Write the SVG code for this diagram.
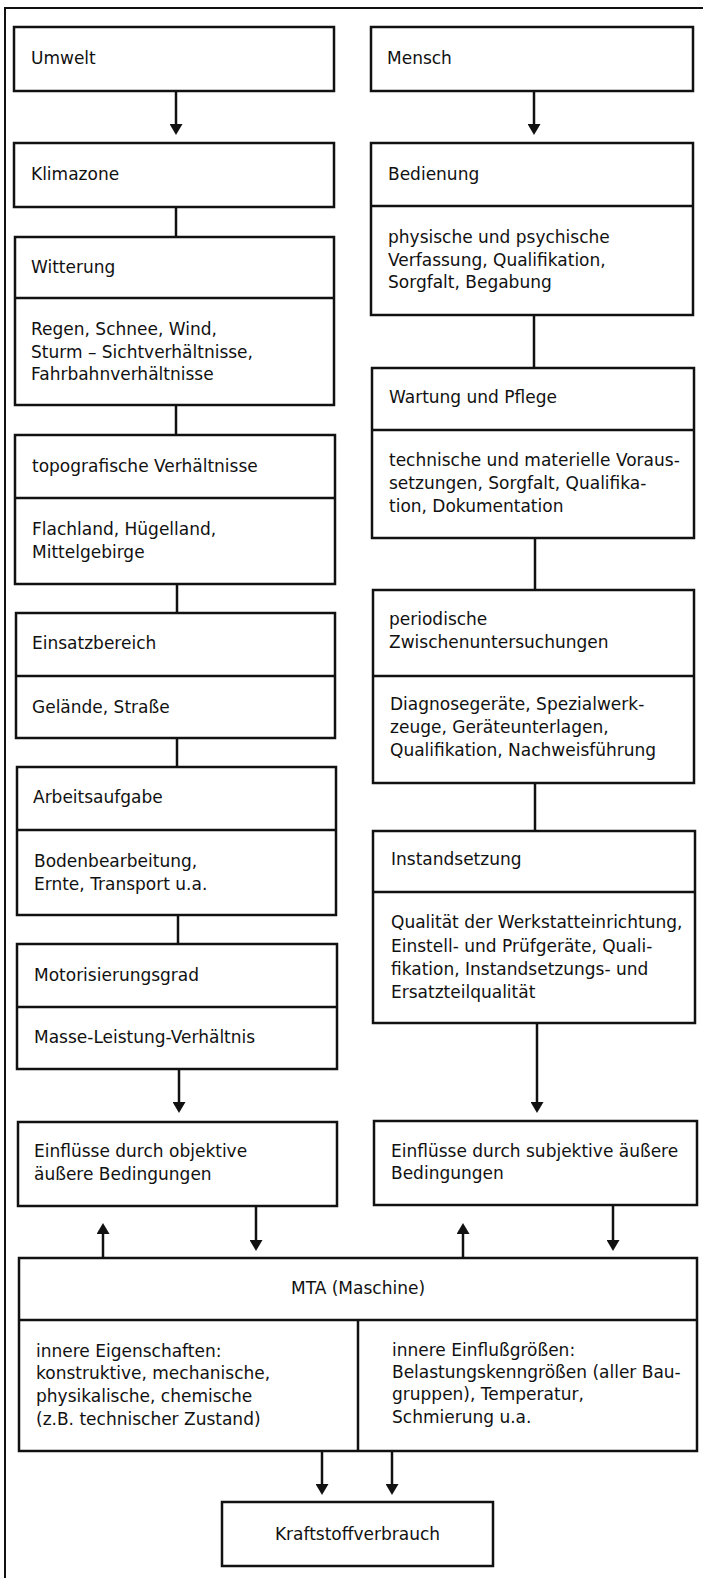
<svg xmlns="http://www.w3.org/2000/svg" width="703" height="1578" viewBox="0 0 703 1578">
<style>
.box{fill:#fff;stroke:#111;stroke-width:2.5}
.div{stroke:#111;stroke-width:2.5;fill:none}
.frame{stroke:#111;stroke-width:2;fill:none}
.con{stroke:#111;stroke-width:2.5;fill:none}
.arr{marker-end:url(#ah)}
text{font-family:"DejaVu Sans","Liberation Sans",sans-serif;font-size:17px;fill:#111}
.c{text-anchor:middle}
</style>
<defs>
<marker id="ah" viewBox="0 0 11 13" refX="3" refY="6.5" markerWidth="11" markerHeight="13" markerUnits="userSpaceOnUse" orient="auto">
<path d="M0,0 L11,6.5 L0,13 z" fill="#111"/>
</marker>
</defs>
<rect width="703" height="1578" fill="#fff"/>
<g id="frame">
<path class="frame" d="M5,1578 L5,8 L703,8"/>
</g>
<g id="connectors">
<path class="con arr" d="M176,91 V127"/>
<path class="con" d="M176,207 V237"/>
<path class="con" d="M176,405 V435"/>
<path class="con" d="M177,584 V613"/>
<path class="con" d="M177,738 V767"/>
<path class="con" d="M178,915 V944"/>
<path class="con arr" d="M179,1069 V1105"/>
<path class="con arr" d="M103,1258 V1231"/>
<path class="con arr" d="M256,1206 V1243"/>
<path class="con arr" d="M534,91 V127"/>
<path class="con" d="M534,315 V368"/>
<path class="con" d="M535,538 V590"/>
<path class="con" d="M535,783 V831"/>
<path class="con arr" d="M537,1023 V1105"/>
<path class="con arr" d="M463,1258 V1231"/>
<path class="con arr" d="M613,1205 V1243"/>
<path class="con arr" d="M322,1451 V1487"/>
<path class="con arr" d="M392,1451 V1487"/>
</g>
<g id="umwelt">
<rect class="box" x="14" y="27" width="320" height="64"/>
<text x="31" y="64">Umwelt</text>
</g>
<g id="klimazone">
<rect class="box" x="14" y="143" width="320" height="64"/>
<text x="31" y="180">Klimazone</text>
</g>
<g id="witterung">
<rect class="box" x="15" y="237" width="319" height="168"/>
<path class="div" d="M15,298 H334"/>
<text x="31" y="273">Witterung</text>
<text x="31" y="335">Regen, Schnee, Wind,</text>
<text x="31" y="358">Sturm – Sichtverhältnisse,</text>
<text x="31" y="380">Fahrbahnverhältnisse</text>
</g>
<g id="topografie">
<rect class="box" x="15" y="435" width="320" height="149"/>
<path class="div" d="M15,498 H335"/>
<text x="32" y="472">topografische Verhältnisse</text>
<text x="32" y="535">Flachland, Hügelland,</text>
<text x="32" y="558">Mittelgebirge</text>
</g>
<g id="einsatzbereich">
<rect class="box" x="16" y="613" width="319" height="125"/>
<path class="div" d="M16,676 H335"/>
<text x="32" y="649">Einsatzbereich</text>
<text x="32" y="713">Gelände, Straße</text>
</g>
<g id="arbeitsaufgabe">
<rect class="box" x="17" y="767" width="319" height="148"/>
<path class="div" d="M17,830 H336"/>
<text x="33" y="803">Arbeitsaufgabe</text>
<text x="34" y="867">Bodenbearbeitung,</text>
<text x="34" y="890">Ernte, Transport u.a.</text>
</g>
<g id="motorisierungsgrad">
<rect class="box" x="17" y="944" width="320" height="125"/>
<path class="div" d="M17,1007 H337"/>
<text x="34" y="981">Motorisierungsgrad</text>
<text x="34" y="1043">Masse-Leistung-Verhältnis</text>
</g>
<g id="einfluesse-objektiv">
<rect class="box" x="18" y="1122" width="319" height="84"/>
<text x="34" y="1157">Einflüsse durch objektive</text>
<text x="34" y="1180">äußere Bedingungen</text>
</g>
<g id="mensch">
<rect class="box" x="371" y="27" width="322" height="64"/>
<text x="387" y="64">Mensch</text>
</g>
<g id="bedienung">
<rect class="box" x="371" y="143" width="322" height="172"/>
<path class="div" d="M371,206 H693"/>
<text x="388" y="180">Bedienung</text>
<text x="388" y="243">physische und psychische</text>
<text x="388" y="266">Verfassung, Qualifikation,</text>
<text x="388" y="288">Sorgfalt, Begabung</text>
</g>
<g id="wartung">
<rect class="box" x="372" y="368" width="322" height="170"/>
<path class="div" d="M372,430 H694"/>
<text x="389" y="403">Wartung und Pflege</text>
<text x="389" y="466">technische und materielle Voraus-</text>
<text x="389" y="489">setzungen, Sorgfalt, Qualifika-</text>
<text x="389" y="512">tion, Dokumentation</text>
</g>
<g id="zwischenuntersuchungen">
<rect class="box" x="373" y="590" width="321" height="193"/>
<path class="div" d="M373,676 H694"/>
<text x="389" y="625">periodische</text>
<text x="389" y="648">Zwischenuntersuchungen</text>
<text x="390" y="710">Diagnosegeräte, Spezialwerk-</text>
<text x="390" y="733">zeuge, Geräteunterlagen,</text>
<text x="390" y="756">Qualifikation, Nachweisführung</text>
</g>
<g id="instandsetzung">
<rect class="box" x="373" y="831" width="322" height="192"/>
<path class="div" d="M373,892 H695"/>
<text x="391" y="865">Instandsetzung</text>
<text x="391" y="928">Qualität der Werkstatteinrichtung,</text>
<text x="391" y="952">Einstell- und Prüfgeräte, Quali-</text>
<text x="391" y="975">fikation, Instandsetzungs- und</text>
<text x="391" y="998">Ersatzteilqualität</text>
</g>
<g id="einfluesse-subjektiv">
<rect class="box" x="374" y="1121" width="323" height="84"/>
<text x="391" y="1157">Einflüsse durch subjektive äußere</text>
<text x="391" y="1179">Bedingungen</text>
</g>
<g id="mta">
<rect class="box" x="19" y="1258" width="678" height="193"/>
<path class="div" d="M19,1320 H697 M358,1320 V1451"/>
<text class="c" x="358" y="1294">MTA (Maschine)</text>
<text x="36" y="1357">innere Eigenschaften:</text>
<text x="36" y="1379">konstruktive, mechanische,</text>
<text x="36" y="1402">physikalische, chemische</text>
<text x="36" y="1425">(z.B. technischer Zustand)</text>
<text x="392" y="1356">innere Einflußgrößen:</text>
<text x="392" y="1378">Belastungskenngrößen (aller Bau-</text>
<text x="392" y="1400">gruppen), Temperatur,</text>
<text x="392" y="1423">Schmierung u.a.</text>
</g>
<g id="kraftstoffverbrauch">
<rect class="box" x="222" y="1502" width="271" height="64"/>
<text class="c" x="357.5" y="1540">Kraftstoffverbrauch</text>
</g>
</svg>
